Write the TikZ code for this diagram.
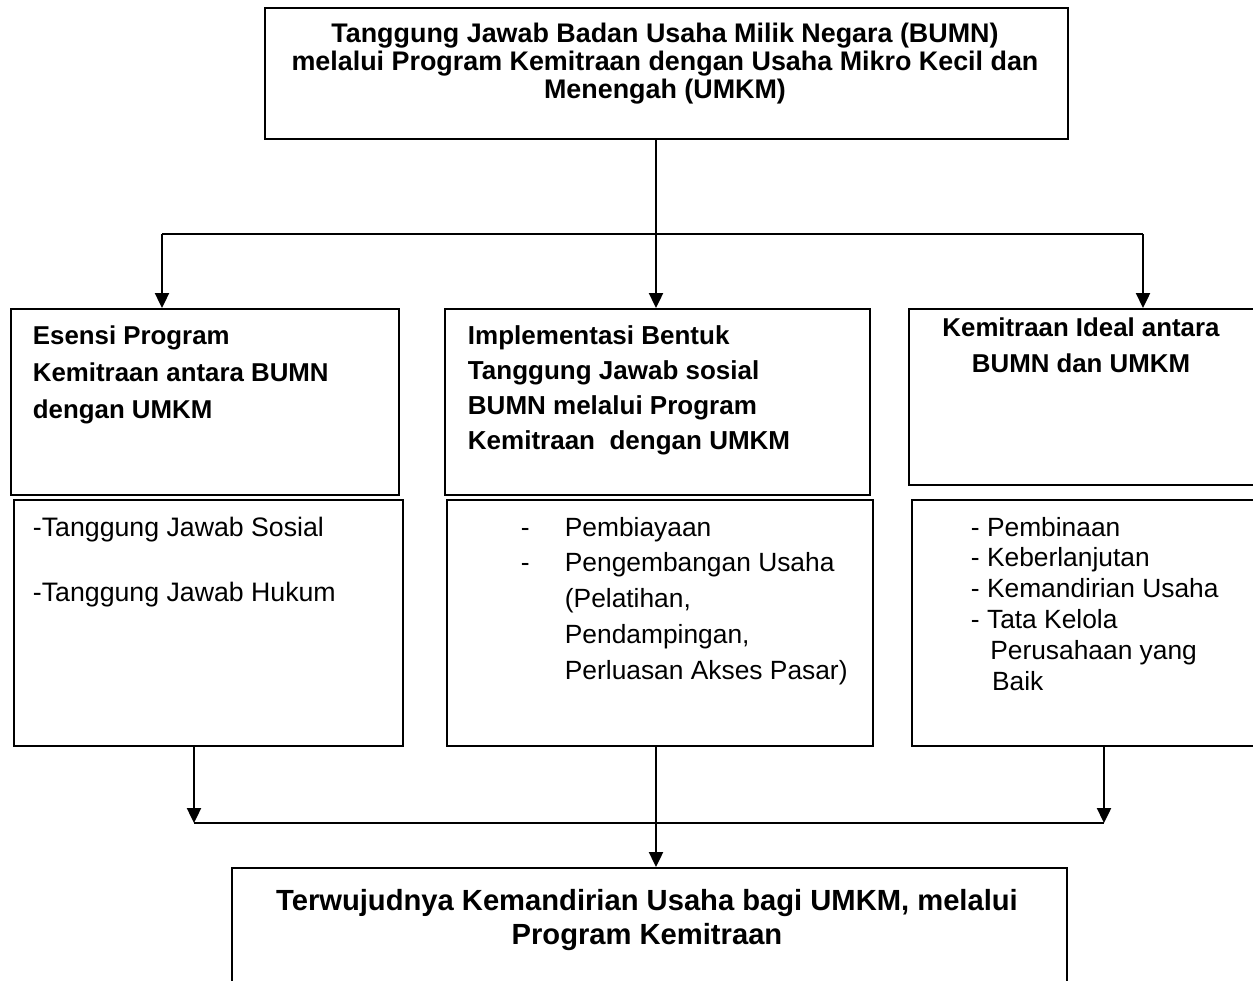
\documentclass[tikz,border=0pt]{standalone}
\usepackage{fontspec}
\setmainfont{Liberation Sans}
\usetikzlibrary{arrows.meta}

\begin{document}
\begin{tikzpicture}[x=0.02cm, y=-0.02cm, line width=1.1pt,
	kotak/.style={draw, rectangle, inner sep=0pt, anchor=north west},
	judul/.style={inner sep=0pt, font=\bfseries\fontsize{14.7}{21}\selectfont},
	isi/.style={inner sep=0pt, anchor=north west, align=left, font=\fontsize{15}{20.4}\selectfont},
	panah/.style={-{Triangle[length=8.5pt, width=8pt]}}]
	\useasboundingbox (0,0) rectangle (1253,980);
	\clip (0,0) rectangle (1253,980);
	% kotak-kotak
	\node[kotak, minimum width=16.06cm, minimum height=2.62cm] (judul) at (264,7) {};
	\node[kotak, minimum width=7.76cm, minimum height=3.72cm] (esensi) at (10,308) {};
	\node[kotak, minimum width=8.5cm, minimum height=3.72cm] (implementasi) at (444,308) {};
	\node[kotak, minimum width=7.34cm, minimum height=3.52cm] (ideal) at (908,308) {};
	\node[kotak, minimum width=7.78cm, minimum height=4.92cm] (esensiisi) at (13,499) {};
	\node[kotak, minimum width=8.52cm, minimum height=4.92cm] (implisi) at (446,499) {};
	\node[kotak, minimum width=7.28cm, minimum height=4.92cm] (idealisi) at (911,499) {};
	\node[kotak, minimum width=16.7cm, minimum height=2.66cm] (hasil) at (231,867) {};
	% teks
	\node[judul, anchor=north, align=center, font=\bfseries\fontsize{15.3}{15.9}\selectfont] (tjudul) at (665,22)
		{Tanggung Jawab Badan Usaha Milik Negara (BUMN)\\ melalui Program Kemitraan dengan Usaha Mikro Kecil dan\\ Menengah (UMKM)};
	\node[judul, anchor=north west, align=left] (tesensi) at (32,325)
		{Esensi Program\\ Kemitraan antara BUMN\\ dengan UMKM};
	\node[judul, anchor=north west, align=left, font=\bfseries\fontsize{14.8}{19.8}\selectfont] (timplementasi) at (467,325)
		{Implementasi Bentuk\\ Tanggung Jawab sosial\\ BUMN melalui Program\\ Kemitraan\ \ dengan UMKM};
	\node[judul, anchor=north, align=center, font=\bfseries\fontsize{14.7}{20.4}\selectfont] (tideal) at (1081,317)
		{Kemitraan Ideal antara\\ BUMN dan UMKM};
	\node[isi, font=\fontsize{15.2}{36.9}\selectfont] (tesensiisi) at (32,516)
		{-Tanggung Jawab Sosial\\ -Tanggung Jawab Hukum};
	\node[isi] (timplisi) at (520,516)
		{\makebox[25pt][l]{-}Pembiayaan\\ \makebox[25pt][l]{-}Pengembangan Usaha\\ \hspace*{25pt}(Pelatihan,\\ \hspace*{25pt}Pendampingan,\\ \hspace*{25pt}Perluasan Akses Pasar)};
	\node[isi, font=\fontsize{15}{17.6}\selectfont] (tidealisi) at (970,516)
		{- Pembinaan\\ - Keberlanjutan\\ - Kemandirian Usaha\\ - Tata Kelola\\ \hspace*{11pt}Perusahaan yang\\ \hspace*{12pt}Baik};
	\node[judul, anchor=north, align=center, font=\bfseries\fontsize{16.6}{19.8}\selectfont] (thasil) at (647,888)
		{Terwujudnya Kemandirian Usaha bagi UMKM, melalui\\ Program Kemitraan};
	% percabangan atas
	\coordinate (cabang) at (656,234);
	\coordinate (kiri) at (162,234);
	\coordinate (kanan) at (1143,234);
	\draw (judul.south -| cabang) -- (cabang);
	\draw (kiri) -- (kanan);
	\draw[panah] (kiri) -- (kiri |- esensi.north);
	\draw[panah] (cabang) -- (cabang |- implementasi.north);
	\draw[panah] (kanan) -- (kanan |- ideal.north);
	% penggabungan bawah
	\coordinate (gabungkiri) at (194,823);
	\coordinate (gabungkanan) at (1104,823);
	\draw[panah] (esensiisi.south -| gabungkiri) -- (gabungkiri);
	\draw[panah] (idealisi.south -| gabungkanan) -- (gabungkanan);
	\draw (gabungkiri) -- (gabungkanan);
	\draw[panah] (implisi.south -| cabang) -- (cabang |- hasil.north);
\end{tikzpicture}
\end{document}
